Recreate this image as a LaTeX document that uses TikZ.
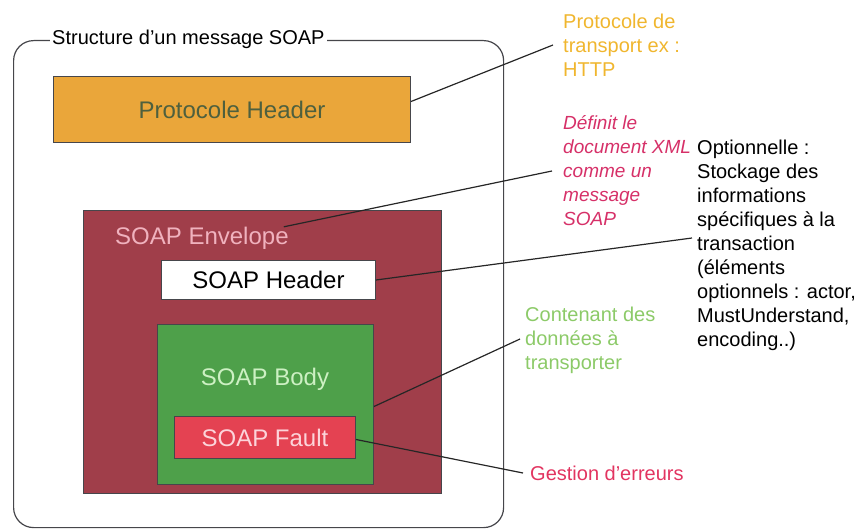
\documentclass[tikz,border=0pt]{standalone}
\usepackage{fontspec}
\setmainfont{Liberation Sans}
\definecolor{orangebox}{RGB}{234,166,58}
\definecolor{headertext}{RGB}{78,96,62}
\definecolor{envfill}{RGB}{160,62,74}
\definecolor{envtext}{RGB}{240,178,190}
\definecolor{bodyfill}{RGB}{78,160,74}
\definecolor{bodytext}{RGB}{205,240,195}
\definecolor{faultfill}{RGB}{228,66,82}
\definecolor{faulttext}{RGB}{252,212,218}
\definecolor{noteyellow}{RGB}{240,182,46}
\definecolor{notemagenta}{RGB}{214,48,104}
\definecolor{notegreen}{RGB}{140,202,104}
\definecolor{notered}{RGB}{226,52,96}
\definecolor{framegray}{RGB}{70,70,75}
\tikzset{
  x=1pt, y=-1pt,
  box/.style={draw=framegray, line width=1pt, inner sep=0pt, anchor=north west,
    font=\fontsize{24}{28}\selectfont},
  note/.style={inner sep=0pt, anchor=north west, align=left,
    font=\fontsize{20}{24}\selectfont},
  link/.style={draw=black!85, line width=1.2pt},
}
\begin{document}
\begin{tikzpicture}
\useasboundingbox (0,0) rectangle (866,529);

% outer frame of the message
\node[draw=framegray, line width=1.2pt, rounded corners=20pt, inner sep=0pt,
  anchor=north west, minimum width=490pt, minimum height=487pt] (frame) at (13,40) {};
\node[fill=white, inner sep=2pt, anchor=west, font=\fontsize{20}{24}\selectfont] (title)
  at (50,39) {Structure d’un message SOAP};

% boxes
\node[box, fill=orangebox, text=headertext, minimum width=357pt, minimum height=66pt]
  (proto) at (53,76) {Protocole Header};
\node[box, fill=envfill, minimum width=358pt, minimum height=283pt] (env) at (83,210) {};
\node[anchor=base west, inner sep=0pt, text=envtext, font=\fontsize{24}{28}\selectfont]
  (envlabel) at (115,244) {SOAP Envelope};
\node[box, fill=white, text=black, minimum width=214pt, minimum height=39pt]
  (sheader) at (161,260) {SOAP Header};
\node[box, fill=bodyfill, minimum width=216pt, minimum height=160pt] (body) at (157,324) {};
\node[text=bodytext, inner sep=0pt, font=\fontsize{24}{28}\selectfont] (bodylabel)
  at (265,379) {SOAP Body};
\node[box, fill=faultfill, text=faulttext, minimum width=181pt, minimum height=42pt]
  (fault) at (174,416) {SOAP Fault};

% annotations
\node[note, text=noteyellow] (nproto) at (563,14)
  {Protocole de\\transport ex :\\HTTP};
\node[note, text=notemagenta, font=\fontsize{19}{24}\selectfont\itshape] (nenv) at (563,115)
  {Définit le\\document XML\\comme un\\message\\SOAP};
\node[note, text=black] (nheader) at (697,140)
  {Optionnelle :\\Stockage des\\informations\\spécifiques à la\\transaction\\(éléments\\optionnels : actor,\\MustUnderstand,\\encoding..)};
\node[note, text=notegreen] (nbody) at (525,307)
  {Contenant des\\données à\\transporter};
\node[note, text=notered] (nfault) at (530,466) {Gestion d’erreurs};

% connectors
\coordinate (cproto) at (553,45);
\coordinate (cenv) at (552,171);
\coordinate (cheader) at (692,238);
\coordinate (cbody) at (520,339);
\coordinate (cfault) at (523,473);
\draw[link] (proto.east) ++(0,-8) coordinate (p1) -- (cproto);
\draw[link] (envlabel.east) ++(-5,-11) coordinate (e1) -- (cenv);
\draw[link] (sheader.east) -- (cheader);
\draw[link] (body.east) ++(0,2) coordinate (b1) -- (cbody);
\draw[link] (fault.east) ++(0,2) coordinate (f1) -- (cfault);
\end{tikzpicture}
\end{document}
